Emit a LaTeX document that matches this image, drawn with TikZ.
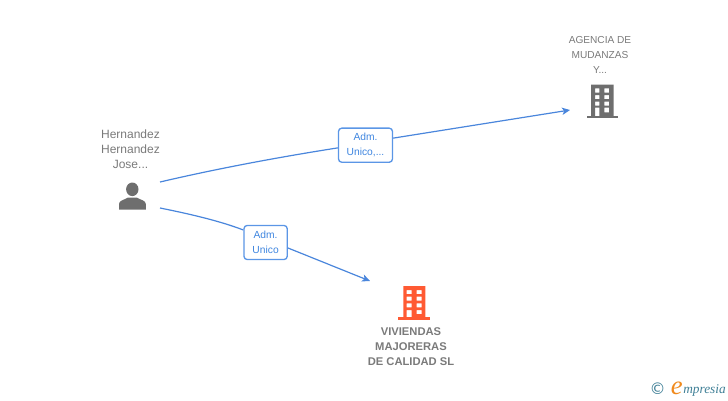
\documentclass[tikz,border=0pt]{standalone}
\usepackage{fontspec}
\setmainfont{Liberation Sans}
\newfontfamily\logofont{Liberation Serif}
\newfontfamily\symfont{DejaVu Sans}
\definecolor{linkblue}{HTML}{4A86DC}
\definecolor{boxblue}{HTML}{5B96E6}
\definecolor{roletext}{HTML}{3F86E0}
\definecolor{labelgrey}{HTML}{7A7A7A}
\definecolor{icongrey}{HTML}{6E6E6E}
\definecolor{iconorange}{HTML}{FF5A33}
\definecolor{logoteal}{HTML}{3F7F96}
\definecolor{logoorange}{HTML}{F08A1E}
\tikzset{
  anchorbox/.style={inner sep=0pt,outer sep=0pt,rectangle},
  caption/.style={align=center,text=labelgrey,font=\fontsize{9pt}{11.25pt}\selectfont,inner sep=0pt},
  capscaption/.style={align=center,text=labelgrey,font=\fontsize{7.6pt}{11.25pt}\selectfont,inner sep=0pt},
  boldcaption/.style={align=center,text=labelgrey,font=\fontsize{8.4pt}{11.25pt}\selectfont\bfseries,inner sep=0pt},
  rolebox/.style={draw=boxblue,line width=1pt,fill=white,rounded corners=2.5pt,align=center,text=roletext,
    font=\fontsize{7.7pt}{11.25pt}\selectfont,inner sep=0pt,text width=30pt},
  link/.style={draw=linkblue,line width=0.9pt},
  linkend/.style={-{Stealth[length=6pt,width=5.5pt,inset=1.6pt]}},
}
\usetikzlibrary{arrows.meta}
\begin{document}
\begin{tikzpicture}[x=0.75pt,y=-0.75pt]
\useasboundingbox (0,0) rectangle (728,400);
% anchors for connector ends
\node[anchorbox,minimum width=42pt,minimum height=19.5pt] (person) at (132,195) {};
\node[anchorbox,minimum width=48pt,minimum height=24pt] (agencia) at (602,110) {};
\node[anchorbox,minimum width=66pt,minimum height=52.5pt] (viviendas) at (414,316) {};
% connectors
\node[rolebox,minimum width=40.5pt,minimum height=25.6pt] (r1) at (365.5,145.2) {Adm.\\Unico,...};
\node[rolebox,minimum width=32.5pt,minimum height=25.6pt,text width=24pt] (r2) at (265.6,242.5) {Adm.\\Unico};
\draw[link] (person.north east) .. controls (220,168) and (280,157) .. ([yshift=-2pt]r1.west);
\draw[link,linkend] ([yshift=5.3pt]r1.east) -- (agencia.west);
\draw[link] (person.south east) .. controls (190,214) and (220,221) .. ([yshift=9.4pt]r2.west);
\draw[link,linkend] ([yshift=-4.1pt]r2.east) -- (viviendas.north west);
% person icon
\fill[icongrey] (132.3,189.3) circle[x radius=6.2,y radius=6.8];
\fill[icongrey] (119,209.5) -- (119,204) .. controls (119,200.5) and (124,200) .. (128,197.5) -- (136.5,197.5) .. controls (141,200) and (145.8,200.5) .. (145.8,204) -- (145.8,209.5) -- cycle;
% grey building
\fill[icongrey,even odd rule] (591,84.5) rectangle (613.5,116)
  (595,88.3) rectangle (599.3,92.7) (604.3,88.3) rectangle (609,92.7)
  (595,95) rectangle (599.3,99) (604.3,95) rectangle (609,99)
  (595,101.7) rectangle (599.3,105.7) (604.3,101.7) rectangle (609,105.7)
  (595,107.7) rectangle (599.3,116) (604.3,107.7) rectangle (609,112.3);
\fill[icongrey] (586.5,115.5) rectangle (617.5,118);
% orange building
\fill[iconorange,even odd rule] (403.3,286) rectangle (425.3,317.5)
  (406.7,290) rectangle (411.7,294) (416.7,290) rectangle (421.7,294)
  (406.7,296.7) rectangle (411.7,300.7) (416.7,296.7) rectangle (421.7,300.7)
  (406.7,303.3) rectangle (411.7,307.3) (416.7,303.3) rectangle (421.7,307.3)
  (406.7,310) rectangle (411.7,317.5) (416.7,310) rectangle (421.7,314);
\fill[iconorange] (398.3,317) rectangle (430,319.7);
% captions
\node[caption] (cperson) at (130.5,149) {Hernandez\\Hernandez\\Jose...};
\node[capscaption] (cagencia) at (600,55) {AGENCIA DE\\MUDANZAS\\Y...};
\node[boldcaption] (cviviendas) at (411,347) {VIVIENDAS\\MAJORERAS\\DE CALIDAD SL};
% logo
\node[inner sep=0pt,text=logoteal,font=\symfont\fontsize{12pt}{12pt}\selectfont] (copy) at (657.7,389) {©};
\node[inner sep=0pt,anchor=base west,text=logoorange,font=\logofont\itshape\fontsize{20pt}{20pt}\selectfont] (loge) at (670.5,394.5) {e};
\node[inner sep=0pt,anchor=base west,text=logoteal,font=\logofont\itshape\fontsize{10pt}{10pt}\selectfont] (logt) at (683,393.5) {mpresia};
\end{tikzpicture}
\end{document}
